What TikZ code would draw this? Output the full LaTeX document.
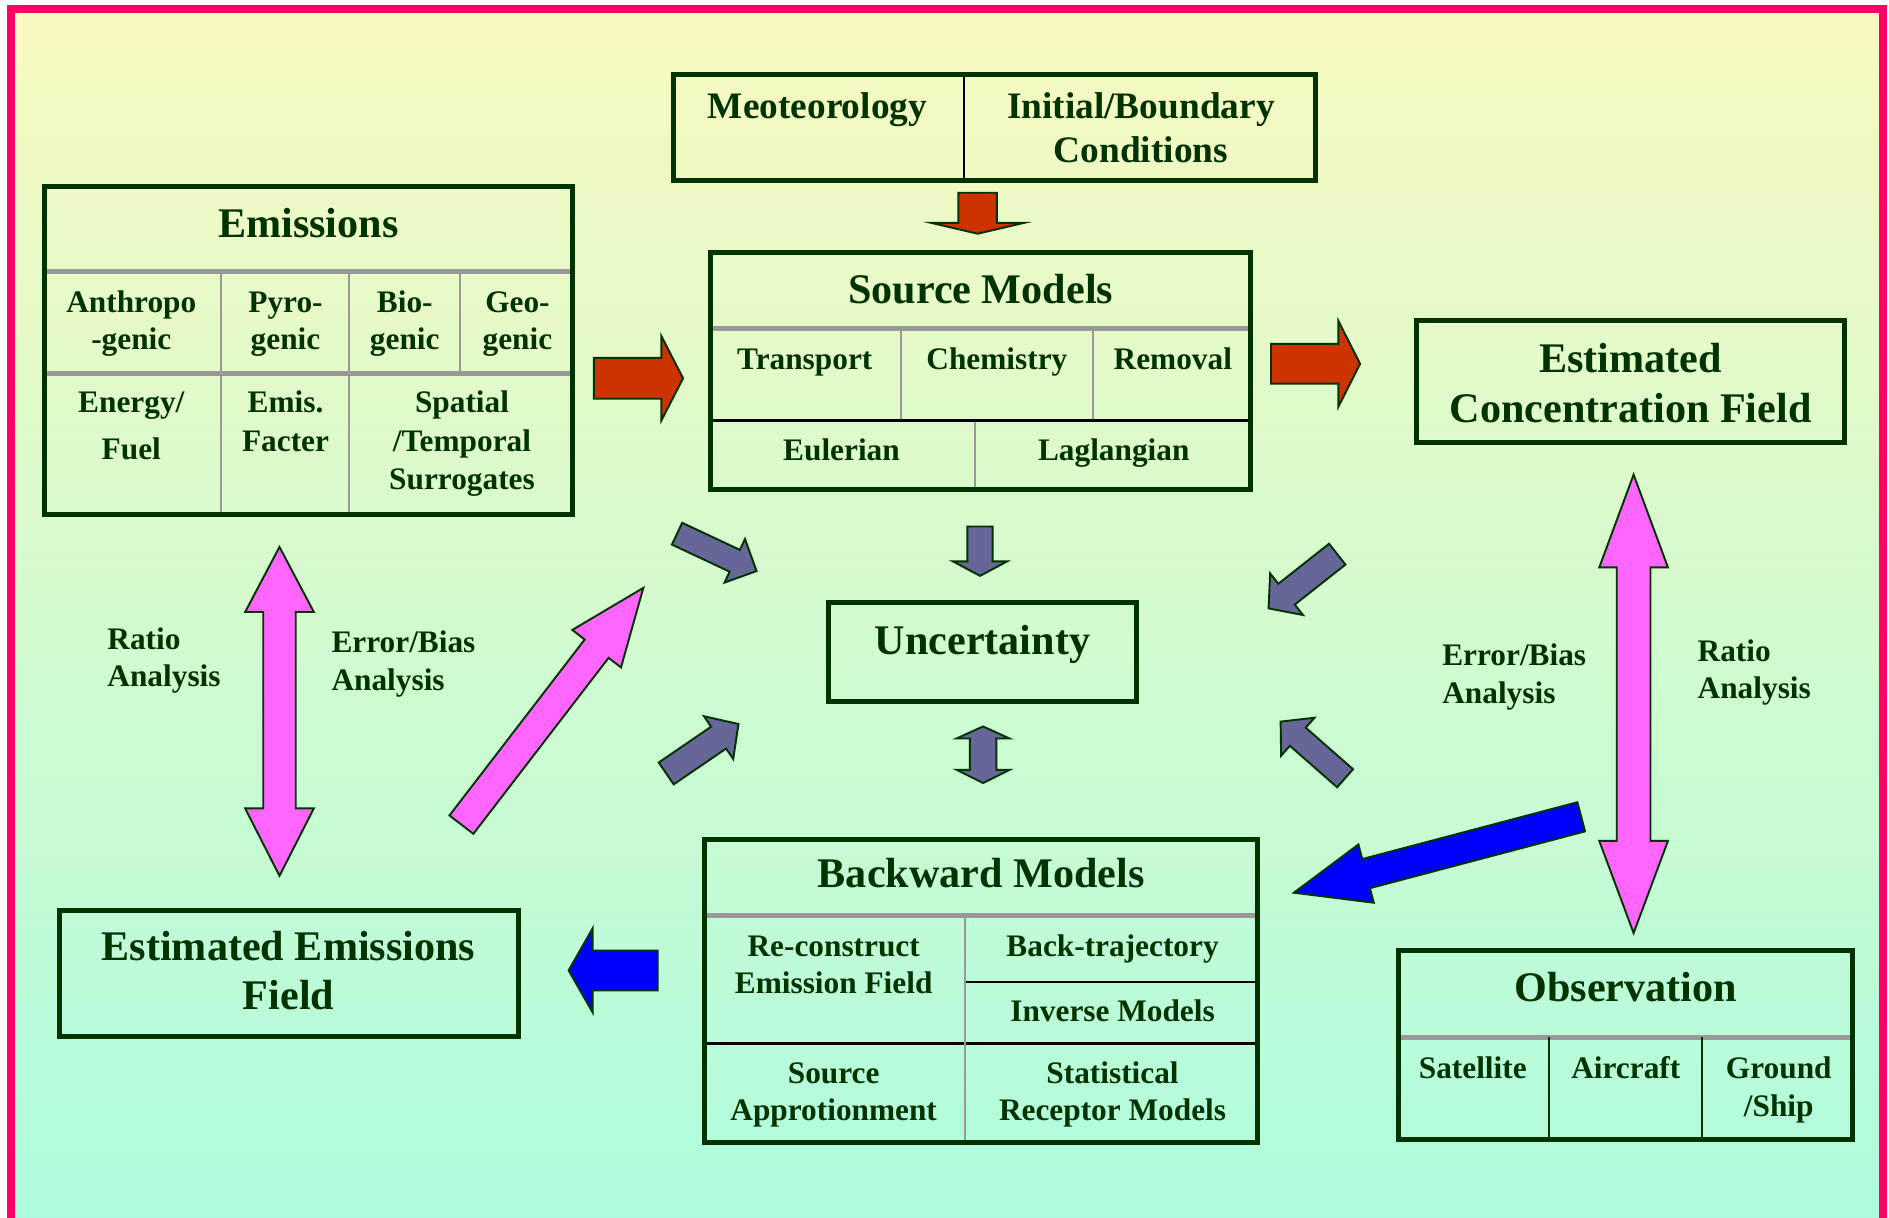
\documentclass[tikz,border=0pt]{standalone}
\usepackage{fontspec}
\setmainfont{Liberation Serif}
\usetikzlibrary{calc}

\definecolor{dgreen}{HTML}{003300}
\definecolor{framepink}{HTML}{FF0066}
\definecolor{bgtop}{RGB}{249,249,192}
\definecolor{bgbot}{RGB}{174,252,222}
\definecolor{rulegray}{HTML}{999999}
\definecolor{arrred}{HTML}{CC3300}
\definecolor{arrslate}{HTML}{666699}
\definecolor{arrpink}{HTML}{FF66FF}
\definecolor{arrblue}{HTML}{0000FF}

% block arrow: tail, tip, shaft half width, head half width, head length, style
\newcommand\fatarrow[6]{%
  \coordinate (fa-hb) at ($(#2)!#5!(#1)$);
  \draw[#6] ($(#1)!#3!90:(#2)$) -- ($(fa-hb)!#3!90:(#2)$) -- ($(fa-hb)!#4!90:(#2)$) -- (#2)
    -- ($(fa-hb)!#4!-90:(#2)$) -- ($(fa-hb)!#3!-90:(#2)$) -- ($(#1)!#3!-90:(#2)$) -- cycle;}

% double block arrow: end A, end B, shaft half width, head half width, head lengths at A and B, style
\newcommand\fatdarrow[7]{%
  \coordinate (fa-ha) at ($(#1)!#5!(#2)$);
  \coordinate (fa-hb) at ($(#2)!#6!(#1)$);
  \draw[#7] (#1) -- ($(fa-ha)!#4!90:(#2)$) -- ($(fa-ha)!#3!90:(#2)$) -- ($(fa-hb)!#3!90:(#2)$)
    -- ($(fa-hb)!#4!90:(#2)$) -- (#2) -- ($(fa-hb)!#4!-90:(#2)$) -- ($(fa-hb)!#3!-90:(#2)$)
    -- ($(fa-ha)!#3!-90:(#2)$) -- ($(fa-ha)!#4!-90:(#2)$) -- cycle;}

\begin{document}
\begin{tikzpicture}[x=1pt,y=-1pt,
  panel/.style={draw=dgreen, line width=4.2pt, rectangle, inner sep=0pt},
  titletext/.style={text=dgreen, font=\bfseries\fontsize{35}{42}\selectfont, inner sep=0pt, anchor=base},
  metatext/.style={text=dgreen, font=\bfseries\fontsize{31}{37}\selectfont, inner sep=0pt, anchor=base},
  celltext/.style={text=dgreen, font=\bfseries\fontsize{26}{31}\selectfont, inner sep=0pt, anchor=base},
  labeltext/.style={celltext, anchor=base west},
  grayrule/.style={draw=rulegray, line width=4pt},
  grayhair/.style={draw=rulegray, line width=1.8pt},
  darkhair/.style={draw=black, line width=2pt},
  greenhair/.style={draw=dgreen, line width=2pt},
  arrowbody/.style={draw=dgreen, line width=1.6pt, line join=miter},
  redarrow/.style={arrowbody, fill=arrred},
  slatearrow/.style={arrowbody, fill=arrslate},
  pinkarrow/.style={arrowbody, fill=arrpink},
  bluearrow/.style={arrowbody, fill=arrblue}]

\useasboundingbox (0,0) rectangle (1568,1011);
\fill[white] (0,0) rectangle (1568,1011);
\shade[top color=bgtop, bottom color=bgbot] (9,7.5) rectangle (1563,1014);
\draw[framepink, line width=6.64pt] (9.1,7.5) rectangle (1563,1014);

% ---- inner rules of the tables ----
% Emissions
\draw[grayrule] (37,225.5) -- (475,225.5);
\draw[grayrule] (37,310) -- (475,310);
\draw[grayhair] (183.5,225.5) -- (183.5,427) (290,225.5) -- (290,427) (382,225.5) -- (382,310);
% Meteorology / boundary conditions
\draw[darkhair] (800,62) -- (800,149.5);
% Source models
\draw[grayrule] (590,273) -- (1038,273);
\draw[grayhair] (748,273) -- (748,349) (907,273) -- (907,349) (809,349) -- (809,406);
\draw[darkhair] (590,349) -- (1038,349);
% Backward models
\draw[grayrule] (585,760) -- (1044,760);
\draw[darkhair] (801,815) -- (1044,815) (585,866) -- (1044,866);
\draw[grayhair] (801,760) -- (801,948);
% Observation
\draw[grayrule] (1161,861) -- (1538,861);
\draw[greenhair] (1286,861) -- (1286,946) (1413,861) -- (1413,946);

% ---- boxes ----
\node[panel, minimum width=438pt, minimum height=272pt] (emis) at (256,291) {};
\node[panel, minimum width=533pt, minimum height=87.5pt] (met) at (825.5,105.75) {};
\node[panel, minimum width=448pt, minimum height=196.5pt] (src) at (814,307.75) {};
\node[panel, minimum width=355pt, minimum height=101.5pt] (conc) at (1353.5,316.75) {};
\node[panel, minimum width=255pt, minimum height=82pt] (unc) at (815.5,541) {};
\node[panel, minimum width=381pt, minimum height=104pt] (estem) at (239.5,808) {};
\node[panel, minimum width=459pt, minimum height=251pt] (back) at (814.5,822.5) {};
\node[panel, minimum width=377pt, minimum height=157pt] (obs) at (1349.5,867.5) {};

% ---- texts ----
\node[metatext] (metL) at (678.5,98) {Meoteorology};
\node[metatext] (metR1) at (947,98) {Initial/Boundary};
\node[metatext] (metR2) at (947,135) {Conditions};

\node[titletext] (emisT) at (256,197) {Emissions};
\node[celltext] (e1a) at (109,259) {Anthropo};
\node[celltext] (e1b) at (109,290.5) {-genic};
\node[celltext] (e2a) at (237,259) {Pyro-};
\node[celltext] (e2b) at (237,290.5) {genic};
\node[celltext] (e3a) at (336,259) {Bio-};
\node[celltext] (e3b) at (336,290.5) {genic};
\node[celltext] (e4a) at (429.5,259) {Geo-};
\node[celltext] (e4b) at (429.5,290.5) {genic};
\node[celltext] (e5a) at (109,342) {Energy/};
\node[celltext] (e5b) at (109,381) {Fuel};
\node[celltext] (e6a) at (237,342) {Emis.};
\node[celltext] (e6b) at (237,375) {Facter};
\node[celltext] (e7a) at (383.5,342) {Spatial};
\node[celltext] (e7b) at (383.5,375) {/Temporal};
\node[celltext] (e7c) at (383.5,406.5) {Surrogates};

\node[titletext] (srcT) at (814,251.6) {Source Models};
\node[celltext] (s1) at (668,307) {Transport};
\node[celltext] (s2) at (827.5,307) {Chemistry};
\node[celltext] (s3) at (973.5,307) {Removal};
\node[celltext] (s4) at (698.5,382.5) {Eulerian};
\node[celltext] (s5) at (924.5,382.5) {Laglangian};

\node[titletext] (concA) at (1353.5,309) {Estimated};
\node[titletext] (concB) at (1353.5,351) {Concentration Field};

\node[titletext] (uncT) at (815.5,543) {Uncertainty};

\node[titletext] (estemA) at (239.5,797) {Estimated Emissions};
\node[titletext] (estemB) at (239.5,838) {Field};

\node[titletext] (backT) at (814.5,737) {Backward Models};
\node[celltext] (b1a) at (692,794) {Re-construct};
\node[celltext] (b1b) at (692,825) {Emission Field};
\node[celltext] (b2) at (923.5,794) {Back-trajectory};
\node[celltext] (b3) at (923.5,848) {Inverse Models};
\node[celltext] (b4a) at (692,899) {Source};
\node[celltext] (b4b) at (692,930) {Approtionment};
\node[celltext] (b5a) at (923.5,899) {Statistical};
\node[celltext] (b5b) at (923.5,930) {Receptor Models};

\node[titletext] (obsT) at (1349.5,831) {Observation};
\node[celltext] (o1) at (1222.5,895) {Satellite};
\node[celltext] (o2) at (1349.5,895) {Aircraft};
\node[celltext] (o3a) at (1476.5,895) {Ground};
\node[celltext] (o3b) at (1476.5,927) {/Ship};

\node[labeltext] (lRa) at (89,539) {Ratio};
\node[labeltext] (lRb) at (89,570) {Analysis};
\node[labeltext] (lEa) at (275,542) {Error/Bias};
\node[labeltext] (lEb) at (275,573) {Analysis};
\node[labeltext] (rEa) at (1197,552) {Error/Bias};
\node[labeltext] (rEb) at (1197,584) {Analysis};
\node[labeltext] (rRa) at (1409,549) {Ratio};
\node[labeltext] (rRb) at (1409,580) {Analysis};

% ---- arrow end points ----
\coordinate (metOut) at (811.5,160);   \coordinate (srcIn) at (811.5,194);
\coordinate (emisOut) at (493,314);    \coordinate (srcInL) at (567,314);
\coordinate (srcOut) at (1055,302);    \coordinate (concIn) at (1129,302);
\coordinate (concEnd) at (1356,394);   \coordinate (obsEnd) at (1356,774.5);
\coordinate (emisEnd) at (232,454);    \coordinate (estemEnd) at (232,727);
\coordinate (estemOut) at (383,684.5); \coordinate (pinkTip) at (534,488);
\coordinate (backOut) at (546,805.5);  \coordinate (estemIn) at (472,805.5);
\coordinate (obsOut) at (1312.5,678);  \coordinate (backIn) at (1074,741);
\coordinate (u1a) at (562,443)   ; \coordinate (u1b) at (628,474);
\coordinate (u2a) at (813.5,437) ; \coordinate (u2b) at (813.5,478);
\coordinate (u3a) at (1110,460)  ; \coordinate (u3b) at (1053,505);
\coordinate (u4a) at (553,642)   ; \coordinate (u4b) at (613,601);
\coordinate (u5a) at (816,603)   ; \coordinate (u5b) at (816,650);
\coordinate (u6a) at (1116.5,646); \coordinate (u6b) at (1063,599);

% ---- block arrows ----
\fatarrow{metOut}{srcIn}{16pt}{38.5pt}{9pt}{redarrow}
\fatarrow{emisOut}{srcInL}{17pt}{35pt}{18pt}{redarrow}
\fatarrow{srcOut}{concIn}{16.5pt}{35.5pt}{18pt}{redarrow}

\fatdarrow{concEnd}{obsEnd}{14pt}{28.5pt}{77pt}{76.5pt}{pinkarrow}
\fatdarrow{emisEnd}{estemEnd}{13.5pt}{28.5pt}{54pt}{56pt}{pinkarrow}
\fatarrow{estemOut}{pinkTip}{12.5pt}{25.5pt}{63.6pt}{pinkarrow}

\fatarrow{backOut}{estemIn}{16.5pt}{35pt}{20pt}{bluearrow}
\fatarrow{obsOut}{backIn}{12.5pt}{25pt}{62pt}{bluearrow}

\fatarrow{u1a}{u1b}{10pt}{20pt}{20pt}{slatearrow}
\fatarrow{u2a}{u2b}{10.5pt}{22.5pt}{12pt}{slatearrow}
\fatarrow{u3a}{u3b}{11pt}{22pt}{19pt}{slatearrow}
\fatarrow{u4a}{u4b}{11pt}{21.5pt}{20pt}{slatearrow}
\fatdarrow{u5a}{u5b}{11pt}{22pt}{10pt}{11pt}{slatearrow}
\fatarrow{u6a}{u6b}{10pt}{21pt}{19pt}{slatearrow}

\end{tikzpicture}
\end{document}
